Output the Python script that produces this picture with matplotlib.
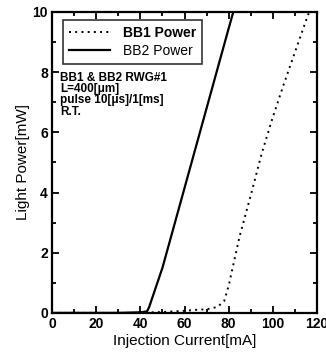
import matplotlib
matplotlib.use("Agg")
import matplotlib.pyplot as plt
from matplotlib.ticker import MultipleLocator

plt.rcParams['font.family'] = ['Liberation Sans', 'DejaVu Sans']

# BB1 (dotted) and BB2 (solid) L-I curves
bb1_current = [0, 10, 20, 30, 40, 45, 50, 55, 60, 65, 70, 75, 78, 80, 85, 90, 95, 100, 105, 110, 115, 116.5]
bb1_power = [0, 0, 0, 0, 0, 0.02, 0.03, 0.05, 0.07, 0.1, 0.12, 0.2, 0.4, 0.9, 2.55, 3.9, 5.3, 6.5, 7.6, 8.65, 9.7, 10.0]

bb2_current = [0, 10, 20, 30, 40, 43, 44, 50, 60, 70, 80, 82.3]
bb2_power = [0, 0, 0, 0, 0.02, 0.05, 0.2, 1.5, 4.15, 6.8, 9.45, 10.05]

notes = ["BB1 & BB2 RWG#1", "L=400[μm]", "pulse 10[μs]/1[ms]", "R.T."]

fig = plt.figure(figsize=(3.26, 3.63), dpi=100)
ax = fig.add_axes([0.16, 0.138, 0.812, 0.829])

ax.plot(bb1_current, bb1_power, color='black', linestyle=(0, (1, 2.2)), lw=1.4, label="BB1 Power")
ax.plot(bb2_current, bb2_power, color='black', linestyle='-', lw=1.6, label="BB2 Power")

ax.set_xlim(0, 120)
ax.set_ylim(0, 10)
ax.xaxis.set_major_locator(MultipleLocator(20))
ax.xaxis.set_minor_locator(MultipleLocator(10))
ax.yaxis.set_major_locator(MultipleLocator(2))
ax.yaxis.set_minor_locator(MultipleLocator(1))
ax.tick_params(which='both', direction='in', top=True, right=True, width=1.3, labelsize=10, pad=3)
ax.tick_params(which='major', length=5)
ax.tick_params(which='minor', length=3)
for lab in ax.get_xticklabels() + ax.get_yticklabels():
    lab.set_fontweight('bold')
for s in ax.spines.values():
    s.set_linewidth(1.6)

ax.set_xlabel("Injection Current[mA]", fontsize=11, labelpad=2)
ax.set_ylabel("Light Power[mW]", fontsize=11, labelpad=2)

leg = ax.legend(loc='upper left', bbox_to_anchor=(0.015, 0.995), fontsize=10, frameon=True,
                fancybox=False, edgecolor='black', handlelength=3.0, borderpad=0.4,
                labelspacing=0.3, handletextpad=0.9)
leg.get_frame().set_linewidth(1.2)
leg.get_texts()[0].set_fontweight('bold')

for i, t in enumerate(notes):
    ax.text(0.03, 0.80 - i * 0.037, t, transform=ax.transAxes, fontsize=8.5,
            fontweight='bold', va='top', ha='left')

fig.savefig("out.png", dpi=100)
